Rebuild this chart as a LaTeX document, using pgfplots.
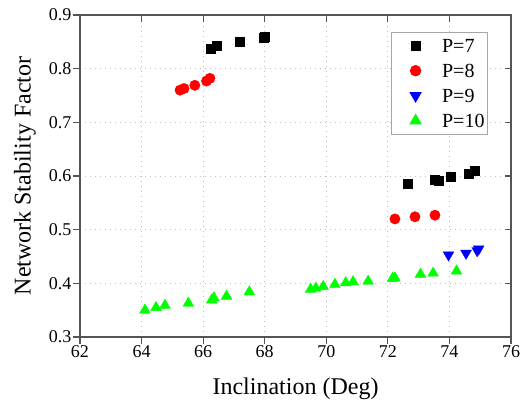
\documentclass[border=0pt]{standalone}
\usepackage{pgfplots}
\pgfplotsset{compat=1.18}
\usepackage{fontspec}
\setmainfont{Liberation Serif}
\definecolor{axgray}{RGB}{85,85,85}
\newcommand{\tickfont}{\fontsize{18}{21}\selectfont\rmfamily}
\begin{document}
\begin{tikzpicture}[x=1pt,y=1pt]
\pgfplotsset{
  common/.style={
    scale only axis,
    width=431pt, height=322pt,
    xmin=62, xmax=76, ymin=0.3, ymax=0.9,
    xtick={62,64,...,76},
    ytick={0.3,0.4,...,0.9},
    axis line style={axgray, line width=1.4pt},
    tick style={axgray, line width=1.2pt},
    major tick length=6.5pt,
  }
}
\begin{axis}[
  common,
  xticklabels={\tickfont 62,\tickfont 64,\tickfont 66,\tickfont 68,\tickfont 70,\tickfont 72,\tickfont 74,\tickfont 76},
  yticklabels={\tickfont 0.3,\tickfont 0.4,\tickfont 0.5,\tickfont 0.6,\tickfont 0.7,\tickfont 0.8,\tickfont 0.9},
  tick label style={font=\tickfont},
  xticklabel style={inner sep=2pt},
  yticklabel style={inner sep=2pt},
  xlabel={Inclination (Deg)},
  ylabel={Network Stability Factor},
  label style={font=\fontsize{24}{28}\selectfont},
  xlabel style={at={(axis description cs:0.5,-0.162)}, anchor=center},
  ylabel style={at={(axis description cs:-0.128,0.5)}, anchor=center},
  tick align=outside,
  xtick pos=bottom, ytick pos=left,
  grid=major,
  major grid style={gray!50, dash pattern=on 1pt off 4pt, line width=1pt},
  legend style={at={(1,1)}, anchor=north east, xshift=-23pt, yshift=-16.5pt,
    draw=gray!70, line width=1pt, font=\fontsize{20}{22}\selectfont,
    row sep=10.5pt, column sep=0pt, inner xsep=3pt, inner ysep=6.5pt,
    nodes={inner sep=0pt, text height=14pt, text depth=0pt, anchor=base west}},
  legend cell align=left,
  legend image code/.code={\path (-21pt,0pt) (26pt,0pt); \draw[#1] plot coordinates {(0pt,6.8pt)};},
]
\addplot[only marks, mark=square*, mark size=4.5pt, black, mark options={fill=black}] coordinates {
(66.25,0.838) (66.45,0.842) (67.2,0.851) (67.97,0.858) (68.0,0.860)
(72.63,0.586) (73.52,0.594) (73.65,0.592) (74.04,0.599) (74.61,0.605) (74.82,0.609)
};
\addlegendentry{P=7}
\addplot[only marks, mark=*, mark size=5.2pt, red, mark options={fill=red, draw=red}] coordinates {
(65.25,0.760) (65.38,0.763) (65.73,0.769) (66.11,0.777) (66.22,0.782)
(72.23,0.520) (72.88,0.524) (73.53,0.527)
};
\addlegendentry{P=8}
\addplot[only marks, mark=triangle*, mark size=6.2pt, blue, mark options={fill=blue, draw=blue, rotate=180}] coordinates {
(73.97,0.453) (74.54,0.456) (74.90,0.461) (74.95,0.464)
};
\addlegendentry{P=9}
\addplot[only marks, mark=triangle*, mark size=6.2pt, green, mark options={fill=green, draw=green}] coordinates {
(64.11,0.350) (64.47,0.355) (64.76,0.359) (65.52,0.363) (66.28,0.369) (66.35,0.373) (66.76,0.376) (67.50,0.384)
(69.49,0.389) (69.66,0.391) (69.90,0.394) (70.28,0.398) (70.63,0.401) (70.87,0.403) (71.36,0.404)
(72.15,0.409) (72.23,0.410) (73.06,0.417) (73.47,0.419) (74.23,0.423)
};
\addlegendentry{P=10}
\end{axis}
\begin{axis}[
  common,
  xticklabels={}, yticklabels={},
  tick align=inside,
  xtick pos=top, ytick pos=right,
]
\end{axis}
\path (-80,-66) rectangle (444,337);
\end{tikzpicture}
\end{document}
